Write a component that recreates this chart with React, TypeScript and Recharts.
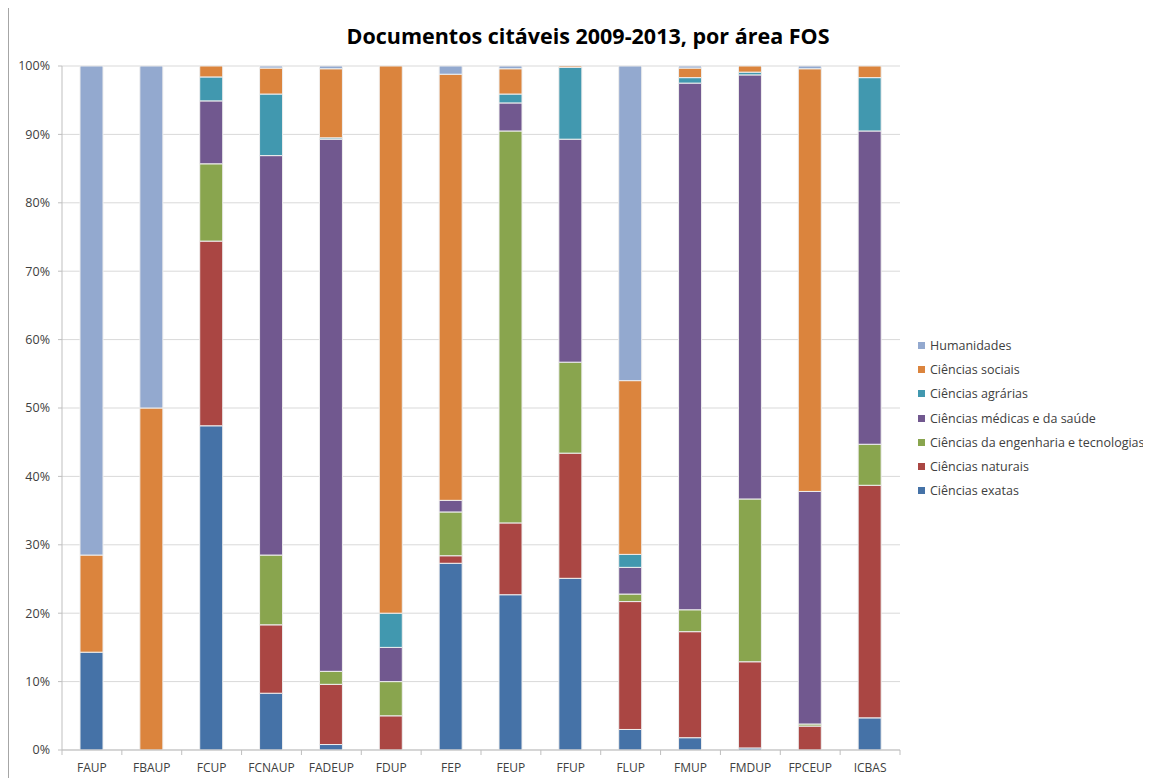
import { BarChart, Bar, XAxis, YAxis, CartesianGrid, Legend } from 'recharts'

const categories = ['FAUP', 'FBAUP', 'FCUP', 'FCNAUP', 'FADEUP', 'FDUP', 'FEP', 'FEUP', 'FFUP', 'FLUP', 'FMUP', 'FMDUP', 'FPCEUP', 'ICBAS']

const exatas = [14.3, 0, 47.4, 8.3, 0.8, 0, 27.3, 22.7, 25.1, 3.0, 1.8, 0.3, 0, 4.7]
const naturais = [0, 0, 27.0, 10.0, 8.8, 5.0, 1.1, 10.5, 18.3, 18.7, 15.5, 12.6, 3.5, 34.0]
const engenharia = [0, 0, 11.3, 10.2, 1.9, 5.0, 6.4, 57.3, 13.3, 1.1, 3.2, 23.8, 0.3, 6.0]
const medicas = [0, 0, 9.2, 58.4, 77.8, 5.0, 1.7, 4.1, 32.6, 3.9, 77.0, 62.0, 34.0, 45.8]
const agrarias = [0, 0, 3.5, 9.0, 0.2, 5.0, 0, 1.3, 10.5, 1.9, 0.8, 0.4, 0, 7.8]
const sociais = [14.2, 50, 1.6, 3.8, 10.1, 80, 62.3, 3.7, 0.2, 25.4, 1.4, 0.9, 61.8, 1.7]
const humanidades = [71.5, 50, 0, 0.3, 0.4, 0, 1.2, 0.4, 0, 46.0, 0.3, 0, 0.4, 0]

const yTicks = [0, 0.1, 0.2, 0.3, 0.4, 0.5, 0.6, 0.7, 0.8, 0.9, 1]

// stacking order, bottom to top
const series = [
  { key: 'exatas', name: 'Ciências exatas', color: '#4572A7', values: exatas },
  { key: 'naturais', name: 'Ciências naturais', color: '#AA4643', values: naturais },
  { key: 'engenharia', name: 'Ciências da engenharia e tecnologias', color: '#89A54E', values: engenharia },
  { key: 'medicas', name: 'Ciências médicas e da saúde', color: '#71588F', values: medicas },
  { key: 'agrarias', name: 'Ciências agrárias', color: '#4198AF', values: agrarias },
  { key: 'sociais', name: 'Ciências sociais', color: '#DB843D', values: sociais },
  { key: 'humanidades', name: 'Humanidades', color: '#93A9CF', values: humanidades },
]

const data = categories.map((c, i) => {
  const row: Record<string, string | number> = { name: c }
  series.forEach((s) => {
    row[s.key] = s.values[i]
  })
  return row
})

const FONT = '"Open Sans", "Noto Sans", sans-serif'
const W = 1143
const H = 770
const PLOT_W = 838
const BAND = PLOT_W / categories.length

function XTick(props: any) {
  const { x, y, payload } = props
  return (
    <g>
      {payload.index === 0 && (
        <line x1={x - BAND / 2} y1={y - 8} x2={x - BAND / 2} y2={y - 3} stroke="#bfbfbf" />
      )}
      <line x1={x + BAND / 2} y1={y - 8} x2={x + BAND / 2} y2={y - 3} stroke="#bfbfbf" />
      <text x={x} y={y + 14} textAnchor="middle" fontSize={12} fill="#404040" fontFamily={FONT}>
        {payload.value}
      </text>
    </g>
  )
}

function LegendBox() {
  const items = [...series].reverse()
  return (
    <div style={{ fontFamily: FONT, fontSize: 12.5, color: '#404040', textAlign: 'left' }}>
      {items.map((s) => (
        <div key={s.key} style={{ display: 'flex', alignItems: 'center', height: 24.3, whiteSpace: 'nowrap' }}>
          <span style={{ width: 7, height: 7, background: s.color, marginRight: 5, display: 'inline-block' }} />
          {s.name}
        </div>
      ))}
    </div>
  )
}

export default function App() {
  return (
    <div style={{ position: 'relative', width: W, height: H, borderLeft: '1px solid #a6a6a6', boxSizing: 'border-box' }}>
      <div
        style={{
          position: 'absolute',
          top: 13,
          left: 0,
          width: 1158,
          textAlign: 'center',
          fontFamily: FONT,
          fontWeight: 700,
          fontSize: 21.5,
          color: '#000',
        }}
      >
        Documentos citáveis 2009-2013, por área FOS
      </div>
      <BarChart
        width={W - 1}
        height={H}
        data={data}
        stackOffset="expand"
        barSize={23}
        margin={{ top: 58, right: 251, bottom: 4, left: 3 }}
      >
        <CartesianGrid vertical={false} stroke="#d9d9d9" />
        <XAxis
          dataKey="name"
          height={24}
          axisLine={{ stroke: '#bfbfbf' }}
          tickLine={false}
          interval={0}
          tick={<XTick />}
        />
        <YAxis
          width={50}
          domain={[0, 1]}
          ticks={yTicks}
          tickFormatter={(v: number) => `${Math.round(v * 100)}%`}
          axisLine={{ stroke: '#bfbfbf' }}
          tickLine={{ stroke: '#bfbfbf' }}
          tickSize={4}
          tickMargin={8}
          tick={{ fontSize: 12.5, fill: '#404040', fontFamily: FONT }}
        />
        <Legend
          layout="vertical"
          align="center"
          verticalAlign="middle"
          content={() => <LegendBox />}
          wrapperStyle={{ left: 909, top: 325, width: 240 }}
        />
        {series.map((s) => (
          <Bar
            key={s.key}
            dataKey={s.key}
            name={s.name}
            stackId="a"
            fill={s.color}
            stroke="#eeeeee"
            strokeWidth={1}
            isAnimationActive={false}
          />
        ))}
      </BarChart>
    </div>
  )
}
